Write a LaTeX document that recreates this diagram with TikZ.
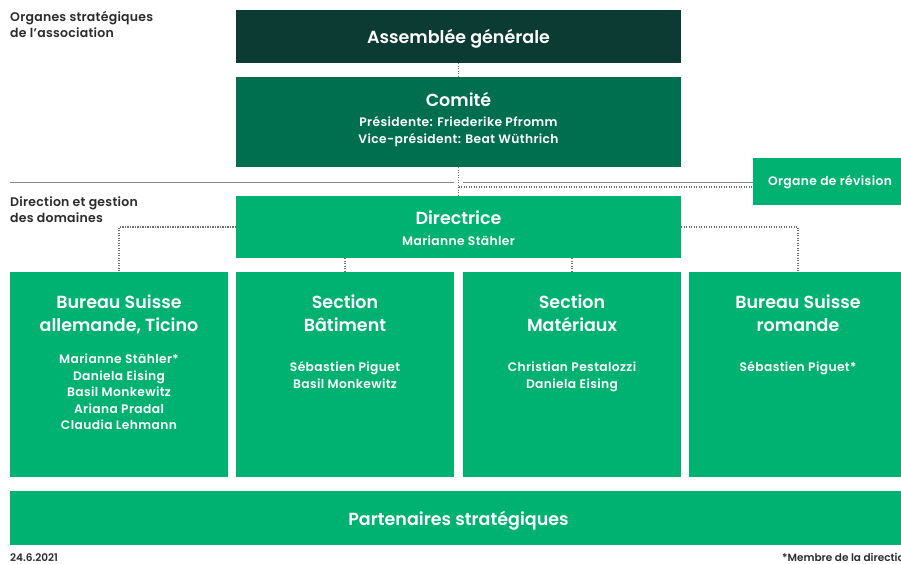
\documentclass[tikz,border=0pt]{standalone}
\usepackage{fontspec}
\setmainfont{Poppins}[BoldFont={Poppins SemiBold}]
\definecolor{cdark}{HTML}{0B3B32}
\definecolor{cmid}{HTML}{006F50}
\definecolor{cgreen}{HTML}{00B272}
\definecolor{cline}{HTML}{8A8A8A}
\definecolor{cdot}{HTML}{6E6E6E}
\definecolor{ctext}{HTML}{2B2B2B}
\tikzset{
  box/.style={inner sep=0pt, outer sep=0pt, anchor=north west, draw=none},
  big/.style={text=white, anchor=base, inner sep=0pt, font=\bfseries\fontsize{17.5}{20}\selectfont},
  small/.style={text=white, anchor=base, inner sep=0pt, font=\bfseries\fontsize{12.3}{14}\selectfont\addfontfeature{LetterSpace=3}},
  side/.style={text=ctext, anchor=base west, inner sep=0pt, font=\bfseries\fontsize{12.5}{14}\selectfont\addfontfeature{LetterSpace=2}},
  foot/.style={text=ctext, inner sep=0pt, font=\bfseries\fontsize{10.5}{12}\selectfont},
  dots/.style={draw=cdot, line width=1.2pt, dash pattern=on 1.2pt off 1.3pt},
  rule/.style={draw=cline, line width=1.5pt}
}
\begin{document}
\begin{tikzpicture}[x=1pt,y=-1pt]
\useasboundingbox (0,0) rectangle (901,563);
% boxes
\node[box, fill=cdark, minimum width=445pt, minimum height=53pt] (ag) at (236,10) {};
\node[box, fill=cmid, minimum width=445pt, minimum height=90pt] (comite) at (236,77) {};
\node[box, fill=cgreen, minimum width=154pt, minimum height=47pt] (org) at (753,158) {};
\node[box, fill=cgreen, minimum width=445pt, minimum height=62pt] (dir) at (236,196) {};
\node[box, fill=cgreen, minimum width=218pt, minimum height=205pt] (b1) at (10,272) {};
\node[box, fill=cgreen, minimum width=218pt, minimum height=205pt] (b2) at (236,272) {};
\node[box, fill=cgreen, minimum width=218pt, minimum height=205pt] (b3) at (463,272) {};
\node[box, fill=cgreen, minimum width=218pt, minimum height=205pt] (b4) at (689,272) {};
\node[box, fill=cgreen, minimum width=897pt, minimum height=54pt] (part) at (10,491) {};
% divider
\coordinate (r1) at (10,182.5);
\coordinate (r2) at (454,182.5);
\coordinate (r3) at (463,182.5);
\draw[rule] (r1) -- (r2);
\draw[rule] (r3) -- (r3 -| org.west);
% connectors
\draw[dots] (ag.south) -- (comite.north);
\draw[dots] (comite.south) -- (dir.north);
\coordinate (j) at (458.5,187);
\draw[dots] (j) -- (j -| org.west);
\draw[dots] (dir.west) -| (b1.north);
\draw[dots] (dir.east) -| (b4.north);
\draw[dots] (dir.south -| b2.north) -- (b2.north);
\draw[dots] (dir.south -| b3.north) -- (b3.north);
% texts
\node[big] (tag) at (458.5,43) {Assemblée générale};
\node[big] (tcom) at (458.5,106) {Comité};
\node[small] (tcom1) at (458.5,126.5) {Présidente: Friederike Pfromm};
\node[small] (tcom2) at (458.5,143.5) {Vice-président: Beat Wüthrich};
\node[small] (torg) at (830,185.5) {Organe de révision};
\node[big] (tdir) at (458.5,224) {Directrice};
\node[small] (tdir1) at (458.5,245.5) {Marianne Stähler};
% box 1
\node[big] (t1a) at (119,308) {Bureau Suisse};
\node[big] (t1b) at (119,331) {allemande, Ticino};
\node[small] (n11) at (119,363.5) {Marianne Stähler*};
\node[small] (n12) at (119,380) {Daniela Eising};
\node[small] (n13) at (119,396.5) {Basil Monkewitz};
\node[small] (n14) at (119,413) {Ariana Pradal};
\node[small] (n15) at (119,429.5) {Claudia Lehmann};
% box 2
\node[big] (t2a) at (345,308) {Section};
\node[big] (t2b) at (345,331) {Bâtiment};
\node[small] (n21) at (345,371.5) {Sébastien Piguet};
\node[small] (n22) at (345,388) {Basil Monkewitz};
% box 3
\node[big] (t3a) at (572,308) {Section};
\node[big] (t3b) at (572,331) {Matériaux};
\node[small] (n31) at (572,371.5) {Christian Pestalozzi};
\node[small] (n32) at (572,388) {Daniela Eising};
% box 4
\node[big] (t4a) at (798,308) {Bureau Suisse};
\node[big] (t4b) at (798,331) {romande};
\node[small] (n41) at (798,371.5) {Sébastien Piguet*};
% partners
\node[big] (tpart) at (458.5,525) {Partenaires stratégiques};
% side labels
\node[side] (s1) at (10,21) {Organes stratégiques};
\node[side] (s2) at (10,37) {de l’association};
\node[side] (s3) at (10,206) {Direction et gestion};
\node[side] (s4) at (10,222) {des domaines};
% footer
\node[foot, anchor=base west] (date) at (10,561) {24.6.2021};
\node[foot, anchor=base west] (memb) at (782,561) {*Membre de la direction};
\end{tikzpicture}
\end{document}
